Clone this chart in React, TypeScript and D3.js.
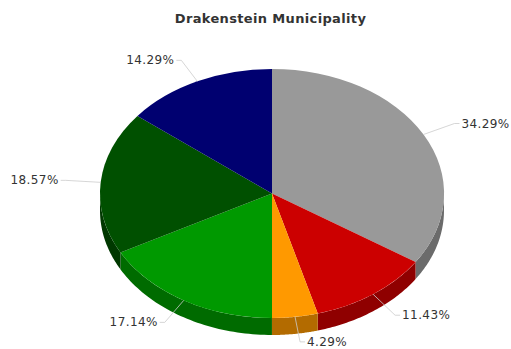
import React from "react";
import * as d3 from "d3";

const title = "Drakenstein Municipality";
const shares = [34.29, 11.43, 4.29, 17.14, 18.57, 14.29];
const faceColors = ["#999999", "#cc0000", "#ff9900", "#009900", "#005000", "#000070"];
const wallColors = ["#6b6b6b", "#8f0000", "#b36b00", "#006b00", "#003800", "#00004e"];

// Elbow of each leader line, relative to the slice's rim anchor.
const leaderElbows: [number, number][] = [
  [31, -11],
  [22, 21],
  [5, 25],
  [-19, 22],
  [-35, -2],
  [-16, -21],
];

const width = 511;
const height = 349;
const cx = 272;
const cy = 193.5;
const rx = 172;
const ry = 124.5;
const depth = 17;

const pie = d3.pie<number>().value((d) => d).sort(null)(shares);
const face = d3.arc<d3.PieArcDatum<number>>().innerRadius(0).outerRadius(1);

const rimX = (a: number) => cx + rx * Math.sin(a);
const rimY = (a: number) => cy - ry * Math.cos(a);

// Outer wall of a slice: only the part of the rim facing the viewer (90° to 270°).
function wallPath(start: number, end: number): string | null {
  const a0 = Math.max(start, Math.PI / 2);
  const a1 = Math.min(end, (3 * Math.PI) / 2);
  if (a1 <= a0) return null;
  const p = d3.path();
  const steps = 48;
  const at = (i: number) => a0 + ((a1 - a0) * i) / steps;
  p.moveTo(rimX(a0), rimY(a0));
  for (let i = 1; i <= steps; i++) p.lineTo(rimX(at(i)), rimY(at(i)));
  for (let i = steps; i >= 0; i--) p.lineTo(rimX(at(i)), rimY(at(i)) + depth);
  p.closePath();
  return p.toString();
}

export default function App() {
  return (
    <svg
      width={width}
      height={height}
      viewBox={`0 0 ${width} ${height}`}
      style={{ position: "absolute", left: 0, top: 0, background: "#ffffff" }}
      fontFamily="'DejaVu Sans', sans-serif"
    >
      <text
        x={270.5}
        y={22.5}
        textAnchor="middle"
        fontSize={13}
        letterSpacing={0.35}
        fontWeight="bold"
        fill="#333333"
      >
        {title}
      </text>

      {pie.map((s, i) => {
        const d = wallPath(s.startAngle, s.endAngle);
        return d ? <path key={i} d={d} fill={wallColors[i]} /> : null;
      })}

      {pie.map((s, i) => (
        <path
          key={i}
          d={face(s) ?? ""}
          fill={faceColors[i]}
          transform={`translate(${cx},${cy}) scale(${rx},${ry})`}
        />
      ))}

      {pie.map((s, i) => {
        const mid = (s.startAngle + s.endAngle) / 2;
        const ax = rimX(mid);
        const ay = rimY(mid);
        const [dx, dy] = leaderElbows[i];
        const ex = ax + dx;
        const ey = ay + dy;
        const right = dx > 0;
        const tx = ex + (right ? 7 : -7);
        return (
          <g key={i}>
            <polyline
              points={`${ax},${ay} ${ex},${ey} ${tx - (right ? 2 : -2)},${ey}`}
              fill="none"
              stroke="#cccccc"
              strokeOpacity={0.8}
              strokeWidth={1}
            />
            <text
              x={tx}
              y={ey + 4}
              textAnchor={right ? "start" : "end"}
              fontSize={12}
              letterSpacing={0.4}
              fill="#333333"
            >
              {`${s.data.toFixed(2)}%`}
            </text>
          </g>
        );
      })}
    </svg>
  );
}
